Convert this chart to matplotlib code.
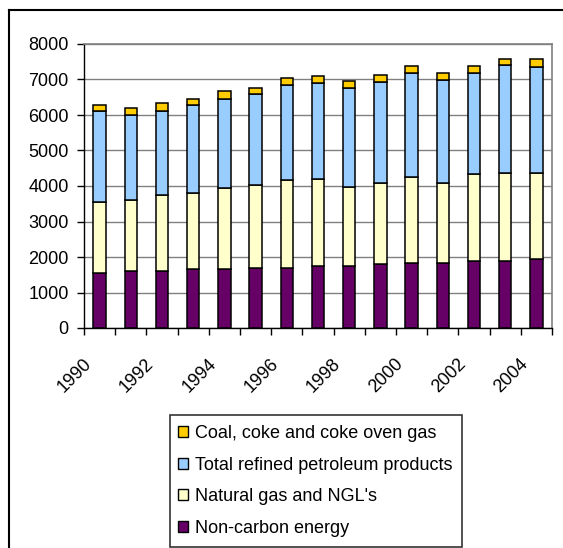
import numpy as np
import matplotlib
matplotlib.use('Agg')
import matplotlib.pyplot as plt
from matplotlib.lines import Line2D
from matplotlib.patches import Rectangle, Patch
from matplotlib.transforms import ScaledTranslation

plt.rcParams['font.family'] = ['Liberation Sans', 'DejaVu Sans']

years = list(range(1990, 2005))
non_carbon = [1550, 1615, 1615, 1655, 1655, 1700, 1700, 1745, 1745, 1795, 1840, 1840, 1885, 1885, 1935]
natural_gas = [2000, 1990, 2140, 2140, 2280, 2335, 2470, 2445, 2235, 2300, 2425, 2255, 2445, 2490, 2440]
petroleum = [2570, 2385, 2365, 2480, 2525, 2565, 2675, 2700, 2770, 2845, 2910, 2890, 2845, 3035, 2985]
coal = [170, 200, 210, 165, 205, 160, 190, 210, 210, 195, 205, 205, 205, 165, 210]

series = [
    ("Non-carbon energy", non_carbon, "#660066"),
    ("Natural gas and NGL's", natural_gas, "#FFFFCC"),
    ("Total refined petroleum products", petroleum, "#99CCFF"),
    ("Coal, coke and coke oven gas", coal, "#FFCC00"),
]

W, H = 563, 548
fig = plt.figure(figsize=(W / 100, H / 100), dpi=100)
ax = fig.add_axes([84 / W, 1 - 328 / H, (552 - 84) / W, (328 - 44) / H])

x = np.arange(len(years))
bottom = np.zeros(len(years))
for name, vals, color in series:
    ax.bar(x, vals, width=0.4, bottom=bottom, color=color, edgecolor='black',
           linewidth=1.1, zorder=3)
    bottom += np.array(vals)

ax.set_xlim(-0.5, len(years) - 0.5)
ax.set_ylim(0, 8000)
ax.set_yticks(range(0, 8001, 1000))
ax.yaxis.grid(True, color='#808080', linewidth=1, zorder=0)
ax.tick_params(axis='y', labelsize=13, length=5, width=1, pad=6, color='black')

ax.set_xticks(x[::2])
ax.set_xticklabels([str(y) for y in years[::2]], rotation=45, ha='right',
                   va='top', rotation_mode='anchor', fontsize=13)
ax.tick_params(axis='x', which='major', length=0, pad=9)
ax.set_xticks(np.arange(-0.5, len(years), 1.0), minor=True)
ax.tick_params(axis='x', which='minor', length=5, width=1, color='black')
shift = ScaledTranslation(-0.17, -0.15, fig.dpi_scale_trans)
for lab in ax.get_xticklabels():
    lab.set_transform(lab.get_transform() + shift)

for side in ['top', 'right']:
    ax.spines[side].set_color('#808080')
    ax.spines[side].set_linewidth(1.2)
for side in ['left', 'bottom']:
    ax.spines[side].set_color('black')
    ax.spines[side].set_linewidth(1)

# outer chart border (clipped by the image)
fig.add_artist(Line2D([9 / W, 9 / W], [0, 1 - 10 / H], transform=fig.transFigure,
                      color='black', linewidth=1.5))
fig.add_artist(Line2D([9 / W, 1], [1 - 10 / H, 1 - 10 / H], transform=fig.transFigure,
                      color='black', linewidth=1.5))

# legend frame
fig.add_artist(Rectangle((170 / W, 1 - 547 / H), (462 - 170) / W, (547 - 415) / H,
                         transform=fig.transFigure, facecolor='white',
                         edgecolor='#333333', linewidth=1.2))
handles = [Patch(facecolor=c, edgecolor='black', linewidth=1) for _, _, c in series[::-1]]
labels = [n for n, _, _ in series[::-1]]
fig.legend(handles, labels, loc='upper left', bbox_to_anchor=(171 / W, 1 - 418 / H),
           frameon=False, fontsize=13, handlelength=0.55, handleheight=0.55,
           handletextpad=0.4, labelspacing=0.8, borderpad=0.4, borderaxespad=0)

fig.savefig('out.png', dpi=100)
